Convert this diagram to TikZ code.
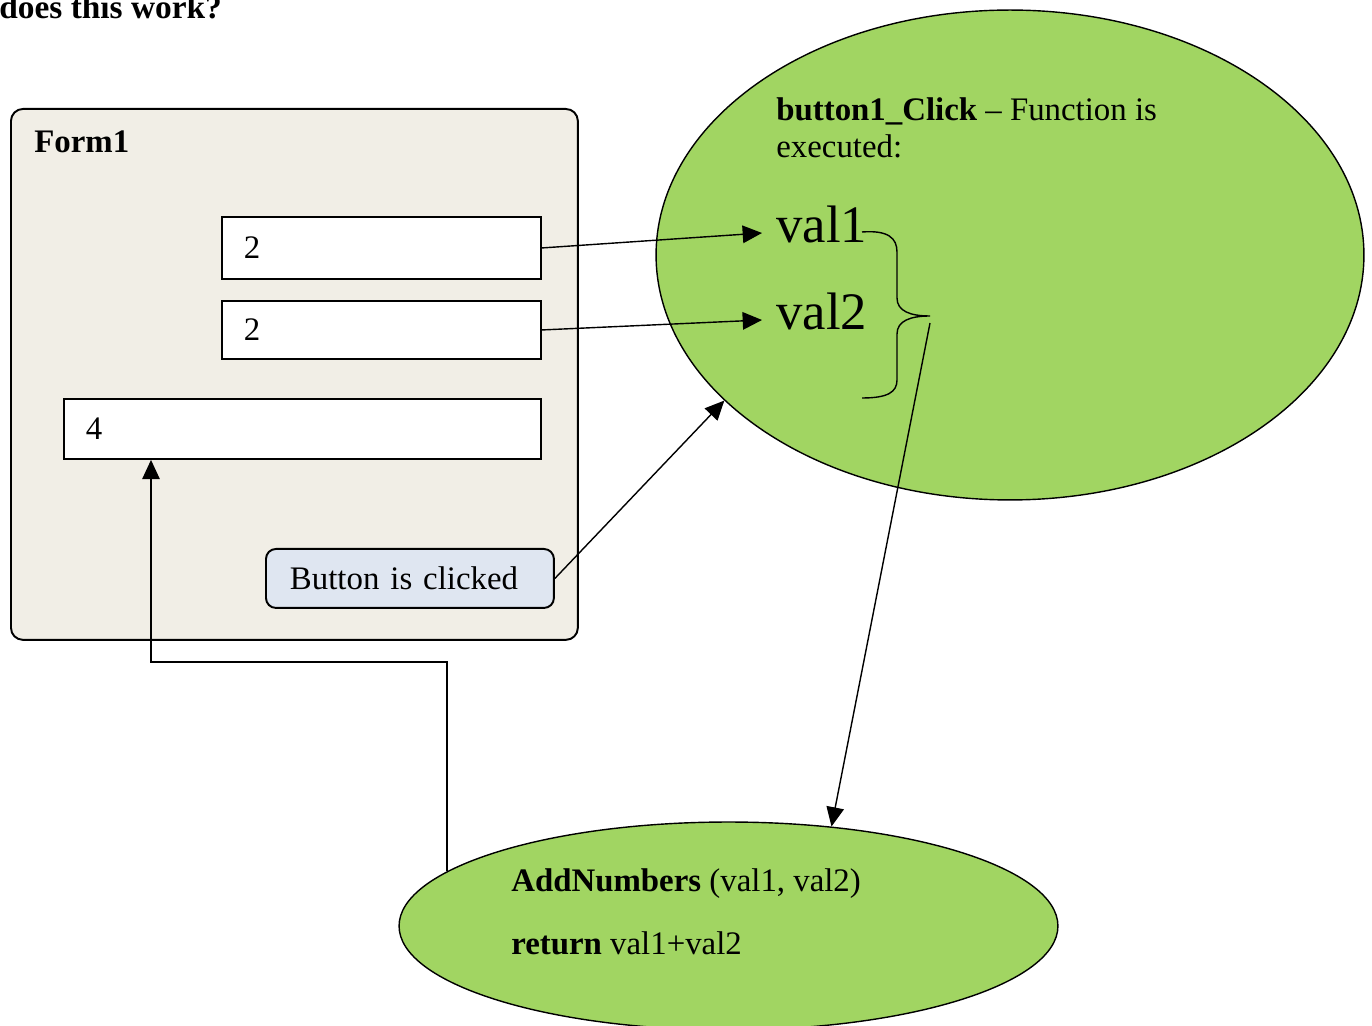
\documentclass[tikz,border=0pt]{standalone}
\usepackage{fontspec}
\setmainfont{Liberation Serif}
\usetikzlibrary{arrows.meta,shapes.geometric}

\definecolor{formbg}{HTML}{F1EEE6}
\definecolor{btnbg}{HTML}{DFE6F1}
\definecolor{funcgreen}{HTML}{A1D562}

\begin{document}
\begin{tikzpicture}[x=0.02cm,y=-0.02cm,
  every node/.style={font=\fontsize{18.7}{21}\selectfont},
  field/.style={draw,line width=1.1pt,fill=white,anchor=north west,
    inner xsep=0.44cm,inner ysep=0pt,align=left},
  formbox/.style={draw,line width=1.1pt,fill=formbg,rounded corners=0.24cm,
    anchor=north west,inner sep=0pt},
  clickbtn/.style={draw,line width=1.1pt,fill=btnbg,rounded corners=0.2cm,
    anchor=north west,inner xsep=0.48cm,inner ysep=0pt,align=left,
    text width=4.8cm,minimum height=1.18cm},
  func/.style={draw,ellipse,line width=0.8pt,fill=funcgreen,inner sep=0pt},
  plain/.style={inner sep=0pt,anchor=base west},
  arr/.style={-{Triangle[length=11pt,width=10pt]},line width=0.8pt}]

\useasboundingbox (0,0) rectangle (1372,1026);

\node[plain,font=\bfseries\fontsize{19}{21}\selectfont] (title) at (-1,19) {does this work?};

% the form
\node[formbox,minimum width=11.34cm,minimum height=10.62cm] (form) at (10,108) {};
\node[plain,font=\bfseries\fontsize{18.7}{21}\selectfont] (formname) at (34,153) {Form1};

\node[field,text width=5.5cm,minimum height=1.24cm] (tb1) at (221,216) {2};
\node[field,text width=5.5cm,minimum height=1.16cm] (tb2) at (221,300) {2};
\node[field,text width=8.66cm,minimum height=1.2cm] (tb3) at (63,398) {4};

\node[clickbtn] (btn) at (265,548) {Button is clicked};

% the functions
\node[func,minimum width=14.16cm,minimum height=9.8cm] (click) at (1010,255) {};
\node[func,minimum width=13.18cm,minimum height=4.16cm] (add) at (728.5,926) {};

\node[inner sep=0pt,anchor=north west,align=left] (clickhead) at (776,97)
  {\textbf{button1\_Click} -- Function is\\executed:};
\node[plain,font=\fontsize{30}{34}\selectfont] (val1) at (776,243) {val1};
\node[plain,font=\fontsize{30}{34}\selectfont] (val2) at (776,330) {val2};

\node[plain] (addhead) at (511,891) {\textbf{AddNumbers} (val1, val2)};
\node[plain] (addret) at (511,954) {\textbf{return} val1+val2};

% brace round val1 and val2
\coordinate (bracetip) at (930,316);
\draw[line width=0.8pt] (862,232) .. controls (888,230) and (897,238) .. (897,252)
  -- (897,298) .. controls (897,311) and (910,316) .. (bracetip)
  .. controls (910,316) and (897,321) .. (897,334)
  -- (897,380) .. controls (897,392) and (888,398) .. (862,398);

% connectors
\coordinate (in1) at (762,233);
\coordinate (in2) at (762,320);
\coordinate (back) at (151,662);

\draw[arr] (tb1.east) -- (in1);
\draw[arr] (tb2.east) -- (in2);
\draw[arr] (btn.east) -- (click.207.5);
\draw[arr] ([yshift=-4pt]bracetip) -- (add.44);
\draw[arr] (add.169.3) |- (back) -- (back |- tb3.south);

\end{tikzpicture}
\end{document}
